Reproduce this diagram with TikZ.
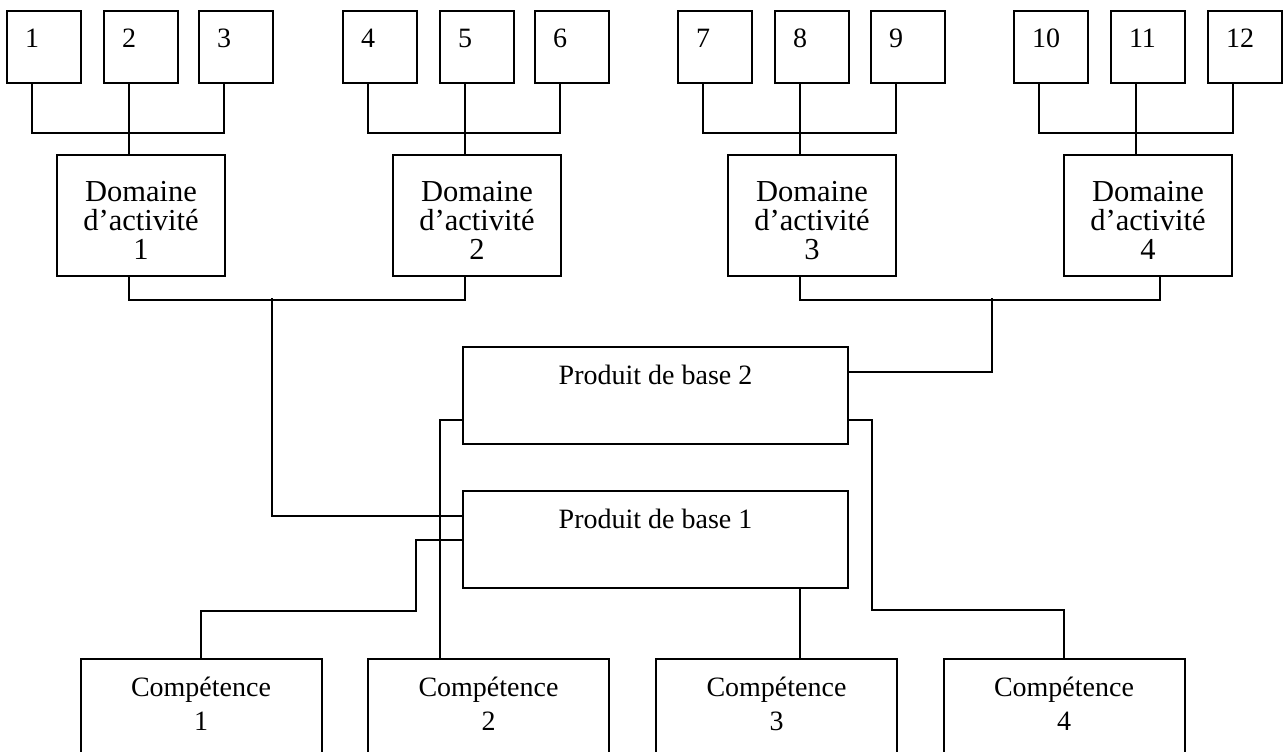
\documentclass[tikz,border=0pt]{standalone}
\usepackage{fontspec}
\setmainfont{Liberation Serif}
\tikzset{
    box/.style={draw, line width=2pt, anchor=north, inner ysep=17pt, text height=20pt},
    numbox/.style={box, inner xsep=18pt, text width=38pt, align=left, text depth=18pt},
    domainbox/.style={box, inner xsep=4pt, text width=160pt, align=center, inner ysep=26pt, text depth=49pt, font=\fontsize{30.5}{29}\selectfont},
    prodbox/.style={box, minimum width=385pt, text depth=43pt},
    compbox/.style={box, inner xsep=4pt, text width=233pt, align=center, text depth=80pt, font=\fontsize{28}{34}\selectfont},
    link/.style={draw, line width=2pt}
}

\begin{document}
\begin{tikzpicture}[x=1pt, y=-1pt, font=\fontsize{28}{29}\selectfont]
        \useasboundingbox (0,0) rectangle (1283,752);
        \clip (0,0) rectangle (1283,752);
        \node[numbox] (n1) at (44,10) {1};
        \node[numbox] (n2) at (141,10) {2};
        \node[numbox] (n3) at (236,10) {3};
        \node[numbox] (n4) at (380,10) {4};
        \node[numbox] (n5) at (477,10) {5};
        \node[numbox] (n6) at (572,10) {6};
        \node[numbox] (n7) at (715,10) {7};
        \node[numbox] (n8) at (812,10) {8};
        \node[numbox] (n9) at (908,10) {9};
        \node[numbox] (n10) at (1051,10) {10};
        \node[numbox] (n11) at (1148,10) {11};
        \node[numbox] (n12) at (1245,10) {12};

        \node[domainbox] (d1) at (141,154) {Domaine\\d'activité\\1};
        \node[domainbox] (d2) at (477,154) {Domaine\\d'activité\\2};
        \node[domainbox] (d3) at (812,154) {Domaine\\d'activité\\3};
        \node[domainbox] (d4) at (1148,154) {Domaine\\d'activité\\4};

        \node[prodbox] (p2) at (655.5,346) {Produit de base 2};
        \node[prodbox] (p1) at (655.5,490) {Produit de base 1};

        \node[compbox] (c1) at (201,658) {Compétence\\1};
        \node[compbox] (c2) at (488.5,658) {Compétence\\2};
        \node[compbox] (c3) at (776.5,658) {Compétence\\3};
        \node[compbox] (c4) at (1064,658) {Compétence\\4};

        \coordinate (j1) at (272,298);
        \coordinate (j2) at (992,298);
        \coordinate (j3) at (416,611);
        \coordinate (j4) at (872,610);

        \path[link] ([xshift=-12pt]n1.south) -- ++(0,49) -| ([xshift=-12pt]n3.south);
        \path[link] ([xshift=-12pt]n2.south) -- ([xshift=-12pt]d1.north);
        \path[link] ([xshift=-12pt]n4.south) -- ++(0,49) -| ([xshift=-12pt]n6.south);
        \path[link] ([xshift=-12pt]n5.south) -- ([xshift=-12pt]d2.north);
        \path[link] ([xshift=-12pt]n7.south) -- ++(0,49) -| ([xshift=-12pt]n9.south);
        \path[link] ([xshift=-12pt]n8.south) -- ([xshift=-12pt]d3.north);
        \path[link] ([xshift=-12pt]n10.south) -- ++(0,49) -| ([xshift=-12pt]n12.south);
        \path[link] ([xshift=-12pt]n11.south) -- ([xshift=-12pt]d4.north);

        \path[link] ([xshift=-12pt]d1.south) -- ++(0,23) -| ([xshift=-12pt]d2.south);
        \path[link] ([xshift=-12pt]d3.south) -- ++(0,23) -| ([xshift=12pt]d4.south);
        \path[link] (j1) |- ([yshift=24pt]p1.west);
        \path[link] (j2) |- ([yshift=24pt]p2.east);

        \path[link] (p1.west) -| (j3) -| (c1.north);
        \path[link] ([yshift=-24pt]p2.west) -| ([xshift=-48.5pt]c2.north);
        \path[link] ([xshift=144.5pt]p1.south) -- ([xshift=23.5pt]c3.north);
        \path[link] ([yshift=-24pt]p2.east) -| (j4) -| (c4.north);
    \end{tikzpicture}
\end{document}
